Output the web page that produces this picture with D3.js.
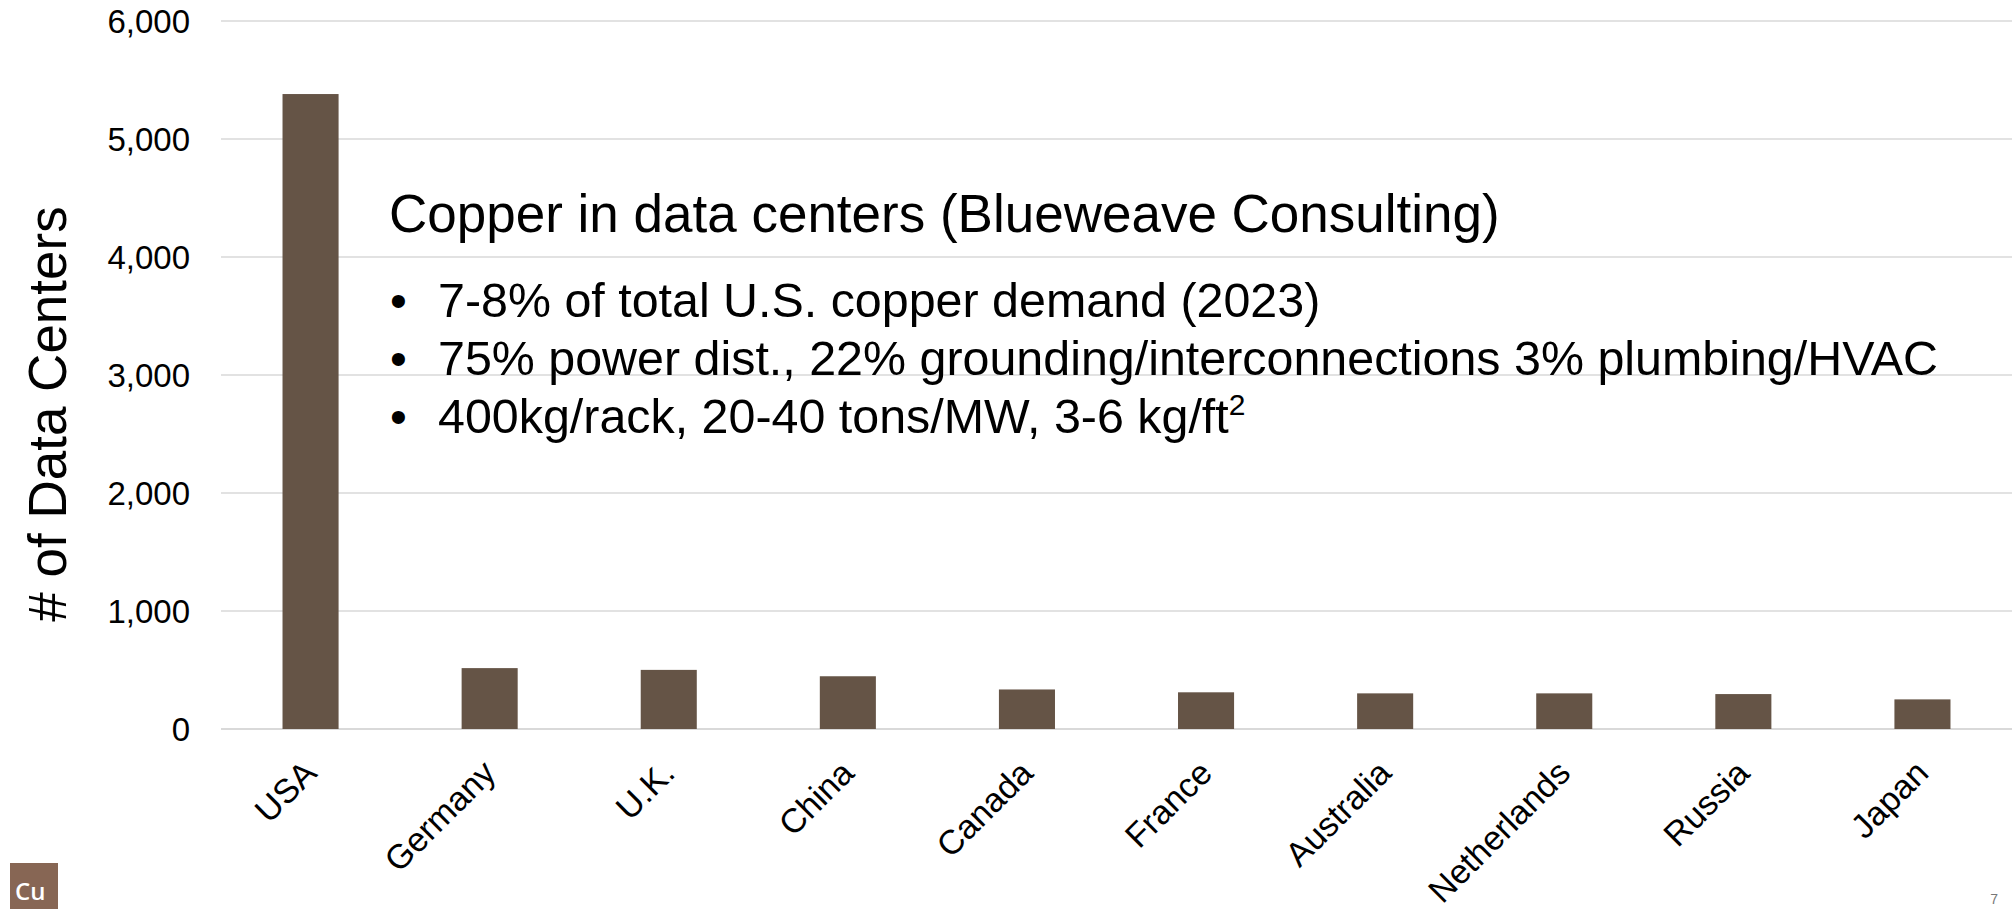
<!DOCTYPE html>
<html><head><meta charset="utf-8">
<script src="https://cdn.jsdelivr.net/npm/d3@7"></script>
<style>
html,body{margin:0;padding:0;background:#fff;}
svg{display:block;font-family:"Liberation Sans",Arial,sans-serif;}
</style></head>
<body>
<svg id="chart" width="2015" height="909"></svg>
<script>
const categories = ["USA","Germany","U.K.","China","Canada","France","Australia","Netherlands","Russia","Japan"];
const dataCenters = [5381, 516, 501, 447, 335, 311, 302, 302, 296, 251];
const yTicks = [0, 1000, 2000, 3000, 4000, 5000, 6000];
const titleText = "Copper in data centers (Blueweave Consulting)";
const bulletLines = [
  ["7-8% of total U.S. copper demand (2023)", null],
  ["75% power dist., 22% grounding/interconnections 3% plumbing/HVAC", null],
  ["400kg/rack, 20-40 tons/MW, 3-6 kg/ft", "2"]
];

const svg = d3.select("#chart");
const x = d3.scaleBand().domain(categories).range([221, 2012]).paddingInner(0.687).paddingOuter(0.3435);
const y = d3.scaleLinear().domain([0, 6000]).range([729, 21]);

// gridlines
svg.append("g").selectAll("line").data(yTicks).join("line")
  .attr("x1", 221).attr("x2", 2012)
  .attr("y1", d => y(d)).attr("y2", d => y(d))
  .attr("stroke", "#d9d9d9").attr("stroke-width", d => d === 0 ? 2 : 1.5);

// y axis
const yAxis = d3.axisLeft(y).tickValues(yTicks).tickSize(0).tickPadding(0).tickFormat(d3.format(","));
const yg = svg.append("g").attr("transform", "translate(190,0)").call(yAxis);
yg.select(".domain").remove();
yg.selectAll("text").attr("font-size", 33).attr("fill", "#000")
  .attr("font-family", "'Liberation Sans',Arial,sans-serif").attr("dy", "0.35em");

// bars
svg.append("g").selectAll("rect").data(categories).join("rect")
  .attr("x", d => x(d)).attr("width", x.bandwidth())
  .attr("y", (d, i) => y(dataCenters[i]))
  .attr("height", (d, i) => y(0) - y(dataCenters[i]))
  .attr("fill", "#655446");

// x axis labels
const xAxis = d3.axisBottom(x).tickSize(0).tickPadding(0);
const xg = svg.append("g").attr("transform", "translate(0,729)").call(xAxis);
xg.select(".domain").remove();
xg.selectAll("text")
  .attr("font-size", 34).attr("fill", "#000")
  .attr("font-family", "'Liberation Sans',Arial,sans-serif")
  .attr("text-anchor", "end")
  .attr("dy", 0).attr("y", 0)
  .attr("transform", "translate(8,46) rotate(-45)");

// y title
svg.append("text")
  .attr("transform", "translate(66,414) rotate(-90)")
  .attr("text-anchor", "middle")
  .attr("font-size", 53).attr("fill", "#000")
  .text("# of Data Centers");

// annotation
svg.append("text").attr("x", 389).attr("y", 232).attr("font-size", 53).attr("fill", "#000").text(titleText);
const bl = svg.append("g");
bulletLines.forEach((ln, i) => {
  const yy = 317 + i * 58;
  bl.append("text").attr("x", 390).attr("y", yy).attr("font-size", 48).attr("fill", "#000").text("•");
  const t = bl.append("text").attr("x", 438).attr("y", yy).attr("font-size", 48.4).attr("fill", "#000");
  t.append("tspan").text(ln[0]);
  if (ln[1]) t.append("tspan").attr("font-size", 30).attr("dy", -18).text(ln[1]);
});

// Cu logo
svg.append("rect").attr("x", 10).attr("y", 863).attr("width", 48).attr("height", 50).attr("fill", "#876654");
svg.append("text").attr("x", 15).attr("y", 900).attr("font-size", 24).attr("fill", "#fff")
  .attr("font-family", "'Open Sans',sans-serif").attr("font-weight", 600).text("Cu");

// page number
svg.append("text").attr("x", 1998).attr("y", 904).attr("font-size", 14).attr("fill", "#777")
  .attr("text-anchor", "end").text("7");
</script>
</body></html>
